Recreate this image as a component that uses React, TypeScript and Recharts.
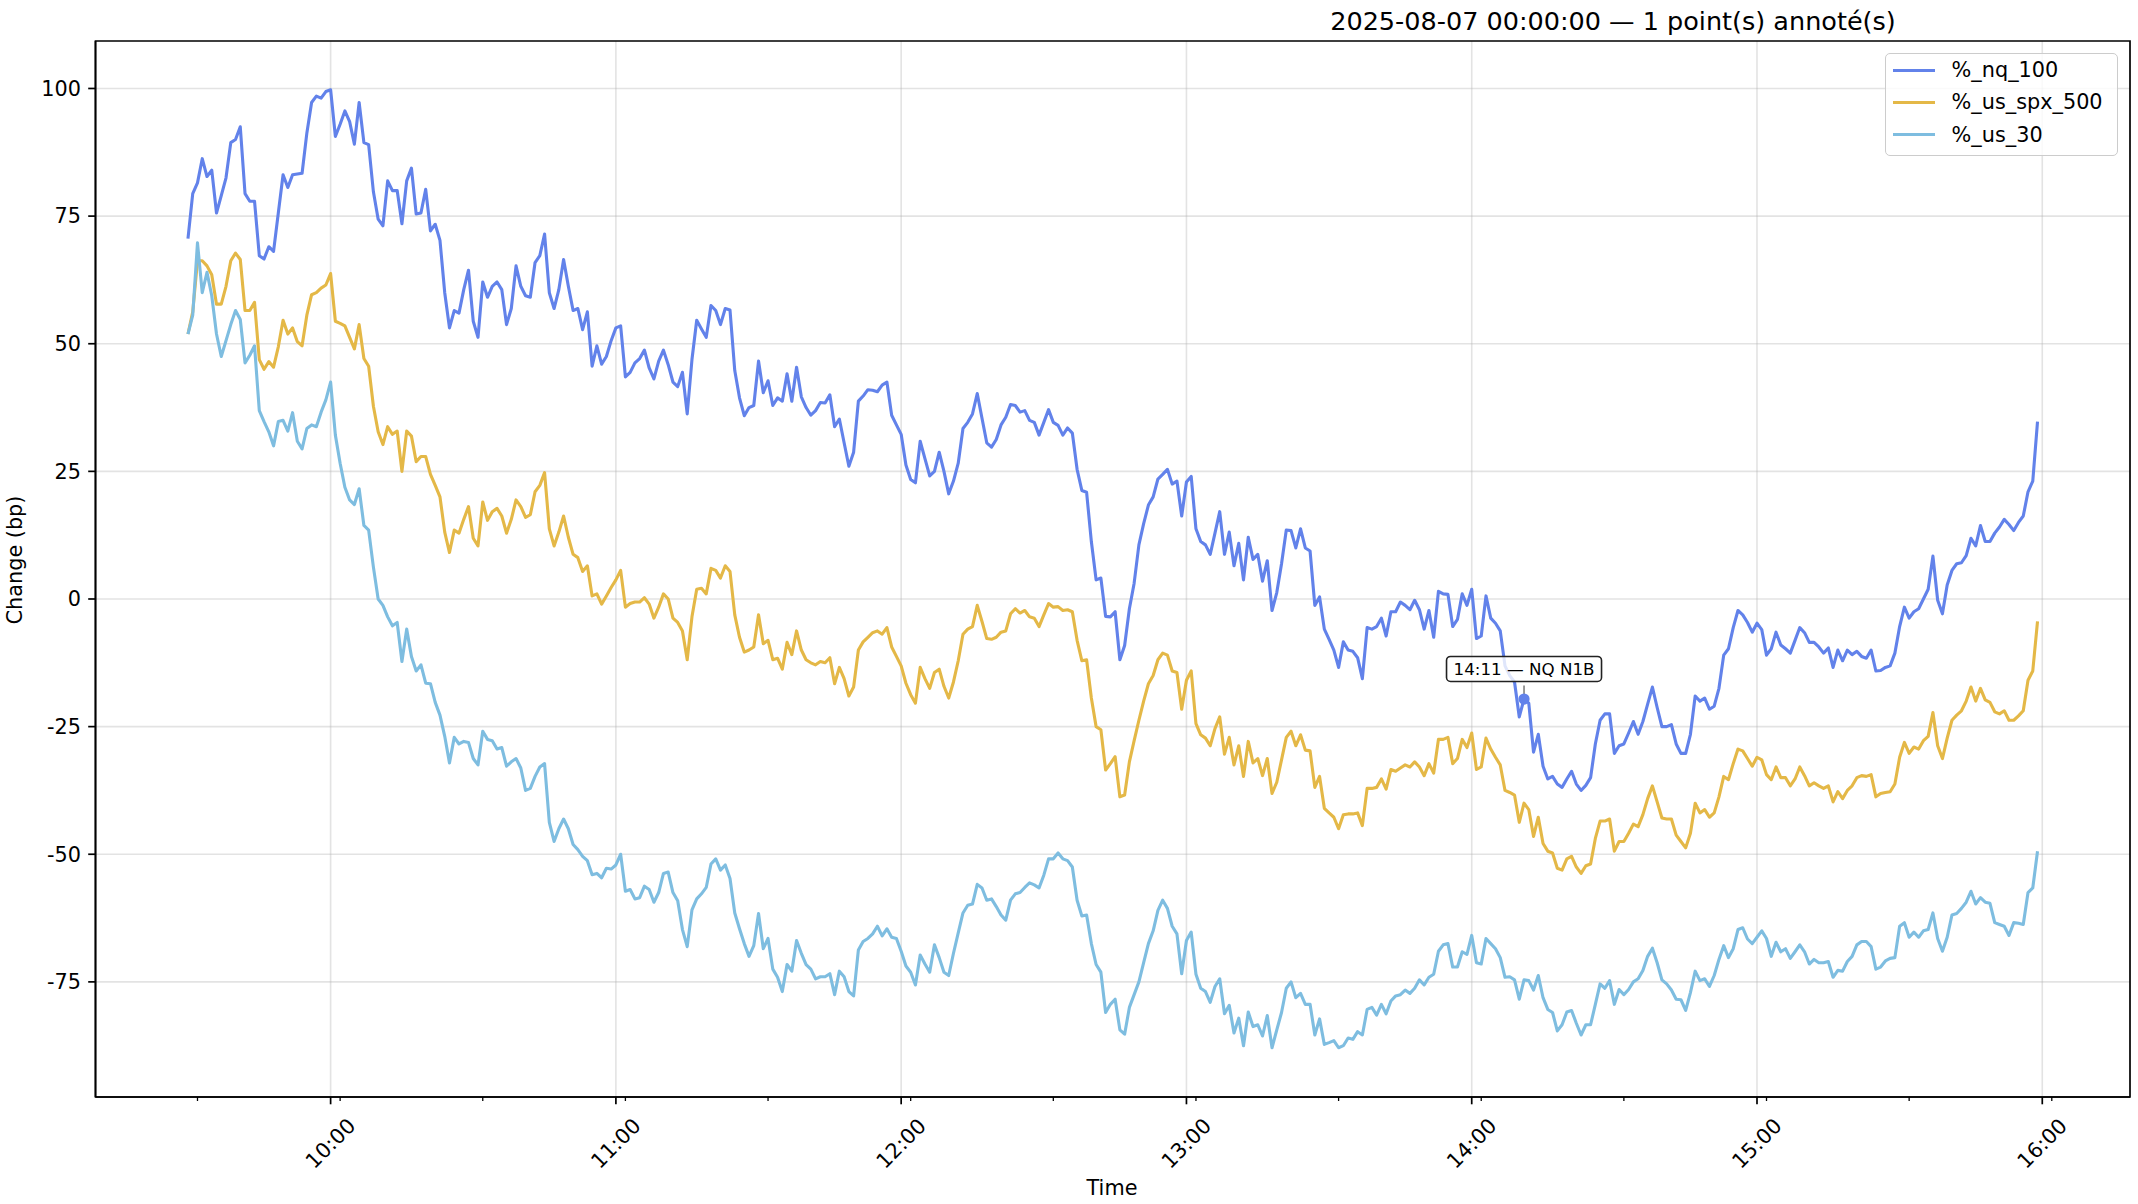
import { LineChart, Line, XAxis, YAxis, CartesianGrid, ReferenceDot, ReferenceArea, Legend } from 'recharts';

const FONT = "'DejaVu Sans', 'Liberation Sans', sans-serif";

// session start, minutes after midnight (one reading per minute from here)
const START_MINUTE = 9 * 60 + 30;

const nq = [
  70.6, 79.4, 81.5, 86.25, 82.75, 84, 75.6, 79, 82.5, 89.4, 90, 92.5, 79.4, 77.9, 77.9, 67.25, 66.6, 69, 68.1, 75.6,
  83.1, 80.6, 83.1, 83.25, 83.4, 91.25, 97.25, 98.5, 98.1, 99.4, 99.75, 90.6, 93, 95.6, 93.5, 89.1, 97.25, 89.4, 89, 79.75,
  74.4, 73.1, 81.9, 80, 80, 73.5, 81.9, 84.4, 75.4, 75.6, 80.25, 72.1, 73.4, 70.25, 60, 53.1, 56.5, 56, 60.6, 64.4,
  54.4, 51.25, 62.1, 59.1, 61.25, 62.1,
  60.6, 53.75, 56.9, 65.25, 61.25, 59.4, 59.1, 65.9, 67.25, 71.5, 60, 56.9, 60.6, 66.5, 61.25, 56.5, 56.9, 52.75, 56.25, 45.6,
  49.6, 46, 47.5, 50.6, 53.1, 53.5, 43.5, 44.4, 46.25, 47.1, 48.75, 45.25, 43.1, 46.6, 48.75, 45.9, 42.5, 41.6, 44.4, 36.25,
  46.9, 54.6, 52.9, 51.25, 57.5, 56.5, 53.75, 56.9, 56.6, 44.75, 39.4, 35.9, 37.5, 37.9, 46.6, 40.4, 42.75, 37.9, 39.4, 38.75,
  44.1, 38.75, 45.4, 39.6, 37.5,
  36, 36.9, 38.5, 38.4, 40, 33.75, 35.25, 30.6, 26, 28.75, 38.75, 39.75, 41, 40.9, 40.6, 41.9, 42.5, 36, 34.1, 32.25,
  26.25, 23.4, 22.75, 30.9, 27.5, 24.1, 25, 28.75, 25, 20.6, 23.1, 26.6, 33.4, 34.6, 36.25, 40.25, 35.4, 30.6, 29.75, 31.25,
  34.1, 35.6, 38.1, 37.9, 36.6, 36.9, 35, 34.6, 32.1, 34.6, 37.1, 34.6, 34, 32.1, 33.5, 32.5, 25.4, 21.25, 20.9, 11.25,
  3.75, 4.1, -3.4, -3.5, -2.5, -11.9,
  -9.1, -1.9, 3.1, 10.6, 14.75, 18.4, 20, 23.5, 24.4, 25.4, 22.5, 23.1, 16.25, 22.9, 24, 13.75, 11.25, 10.6, 8.75, 12.9,
  17.1, 8.75, 13.1, 6.5, 10.9, 3.75, 12.1, 7.75, 8.75, 3.5, 7.5, -2.25, 1.25, 6.9, 13.5, 13.4, 10, 13.75, 10, 9.4,
  -1.25, 0.4, -5.9, -7.9, -10, -13.4, -8.4, -10, -10.25, -11.5, -15.6, -5.6, -5.9, -5.4, -3.75, -7.25, -2.5, -2.5, -0.6, -1.25,
  -2.1, -0.25, -2.1, -5.9, -2.25,
  -7.5, 1.5, 1, 0.9, -5.4, -4, 1, -1.25, 1.9, -7.75, -7.25, 0.6, -3.75, -4.75, -6.25, -13.1, -15, -16.25, -23.1, -19.6,
  -20.4, -30, -26.5, -32.75, -35.25, -34.75, -36.25, -36.9, -35.25, -33.75, -36.25, -37.5, -36.5, -35, -28.4, -23.75, -22.5, -22.5, -30.25, -28.75,
  -28.4, -26.25, -24, -26.5, -24, -20.6, -17.25, -21.25, -25, -25, -24.6, -28.4, -30.25, -30.25, -26.5, -19, -20, -19.4, -21.6, -21,
  -17.5, -11, -9.75, -5.6, -2.25,
  -3.1, -4.6, -6.5, -4.75, -6, -11, -9.75, -6.5, -9, -9.75, -10.6, -8.1, -5.6, -6.6, -8.5, -8.5, -9.4, -10.6, -9.6, -13.4,
  -10, -12.1, -10, -10.9, -10.25, -11.25, -11.6, -10, -14.1, -14, -13.4, -13.1, -10.6, -5.4, -1.6, -3.75, -2.5, -1.9, 0, 1.9,
  8.4, -0.25, -2.9, 2.75, 5.6, 6.9, 7.1, 8.5, 11.9, 10.4, 14.4, 11.25, 11.25, 12.9, 14.1, 15.6, 14.6, 13.4, 15, 16.25,
  21, 23.1, 34.75,
];

const spx = [
  51.9, 56.25, 66.25, 66.25, 65.25, 63.5, 57.75, 57.75, 61.25, 66.25, 67.75, 66.5, 56.5, 56.5, 58.1, 46.9, 45, 46.5, 45.4, 49.4,
  54.6, 51.9, 53.1, 50.4, 49.6, 55.6, 59.6, 60, 60.9, 61.5, 63.75, 54.4, 54, 53.5, 51.25, 49, 53.75, 47.1, 45.6, 37.75,
  32.75, 30.25, 33.75, 32.25, 32.9, 25, 32.9, 31.9, 26.9, 27.9, 27.9, 24.4, 22.25, 20, 13.1, 9.1, 13.5, 12.9, 15.6, 18.1,
  11.9, 10.4, 19, 15.4, 17.1, 17.75,
  16.25, 12.9, 15.6, 19.4, 18.1, 16, 16.5, 21, 22.25, 24.75, 13.75, 10.4, 13.1, 16.25, 12.1, 8.75, 8.1, 5.4, 6.5, 0.6,
  1, -1, 0.6, 2.25, 3.75, 5.6, -1.6, -0.9, -0.6, -0.6, 0.25, -1, -3.75, -1.6, 1, 0, -3.75, -4.6, -6.25, -11.9,
  -3.5, 1.9, 2.1, 1, 6, 5.6, 4.1, 6.5, 5.4, -3.1, -7.5, -10.4, -10, -9.4, -3.1, -8.75, -8.1, -11.9, -11.6, -13.75,
  -8.5, -10.9, -6.25, -10, -11.9,
  -12.5, -12.9, -12.25, -12.5, -11.5, -16.6, -13.4, -15.6, -19, -17.25, -10, -8.4, -7.5, -6.6, -6.25, -6.9, -5.6, -9.4, -11.25, -13.1,
  -16.5, -18.75, -20.4, -13.4, -15.6, -17.5, -14.4, -13.75, -17.1, -19.4, -16.25, -12.1, -6.9, -5.9, -5.4, -1.25, -4.4, -7.75, -7.9, -7.5,
  -6.5, -6.25, -2.9, -1.9, -2.75, -2.25, -3.5, -3.75, -5.4, -3.1, -0.9, -1.6, -1.5, -2.25, -2.1, -2.5, -8.1, -12.1, -11.9, -19.4,
  -25, -25.6, -33.5, -32.25, -30.9, -38.75,
  -38.4, -31.9, -27.75, -23.75, -20, -16.6, -15, -11.9, -10.6, -11, -14.1, -14.4, -21.6, -15.9, -14.1, -24.4, -26.6, -27.25, -28.75, -25.4,
  -23.1, -30.4, -27.1, -32.5, -28.75, -34.75, -27.9, -32.1, -31.25, -34.6, -31.25, -38.1, -35.9, -31.5, -27.1, -25.9, -28.75, -26.6, -29.6, -29.75,
  -36.9, -34.75, -41, -41.9, -42.75, -45, -42.25, -42.1, -42.1, -41.9, -44.4, -37.1, -37.1, -36.9, -35.25, -37.25, -33.4, -33.75, -33.1, -32.5,
  -32.9, -31.9, -32.9, -34.6, -32.25,
  -34.1, -27.5, -27.5, -27.1, -32.25, -31.25, -27.5, -29.1, -26.25, -33.4, -32.9, -27.25, -29.4, -31, -32.5, -37.5, -37.9, -38.4, -43.75, -40,
  -41.25, -46.5, -42.75, -47.9, -49.4, -49.75, -52.75, -53.1, -50.9, -50.4, -52.5, -53.75, -52.25, -51.9, -46.9, -43.5, -43.5, -43.1, -49.4, -47.5,
  -47.5, -45.9, -44.1, -44.6, -42.25, -39.1, -36.6, -39.75, -42.9, -43.1, -43.1, -46.25, -47.5, -48.75, -45.9, -40, -41.9, -41.25, -42.75, -41.9,
  -38.75, -34.75, -35.4, -32.25, -29.4,
  -29.75, -31.25, -32.75, -31, -31.5, -34.4, -35.4, -32.9, -35, -35, -36.6, -35.25, -32.9, -34.6, -36.6, -36, -36.6, -37.1, -36.6, -39.75,
  -37.75, -39.1, -37.5, -36.6, -35, -34.6, -34.75, -34.4, -38.75, -38.1, -37.9, -37.75, -36.25, -31, -28.1, -30.25, -29, -29.4, -27.75, -26.9,
  -22.25, -28.75, -31.25, -27.25, -23.75, -22.75, -21.9, -20, -17.25, -20, -17.5, -19.75, -20.25, -22.1, -22.5, -21.9, -23.75, -23.75, -22.9, -21.9,
  -15.9, -14.1, -4.4,
];

const us30 = [
  51.9, 55.6, 69.75, 60, 64, 59.4, 51.9, 47.5, 50.6, 53.75, 56.5, 54.75, 46.25, 47.75, 49.6, 36.9, 34.75, 32.75, 30, 34.75,
  35, 32.9, 36.5, 30.9, 29.4, 33.4, 34.1, 33.75, 36.6, 39, 42.5, 32.1, 26.6, 21.9, 19.4, 18.5, 21.6, 14.4, 13.5, 6.25,
  0, -1.25, -3.5, -5.25, -4.6, -12.25, -5.9, -11.25, -14.1, -12.9, -16.5, -16.6, -20.25, -22.75, -26.9, -32.1, -27.1, -28.4, -27.9, -28.1,
  -31.25, -32.5, -25.9, -27.5, -27.75, -29.4,
  -29.1, -32.75, -31.9, -31.25, -33.1, -37.5, -37.1, -34.75, -32.9, -32.25, -43.75, -47.5, -45, -43.1, -45, -48.1, -49.1, -50.4, -51.25, -54,
  -53.75, -54.6, -52.75, -52.9, -52.1, -50, -57.25, -56.9, -58.75, -58.5, -56.25, -56.9, -59.4, -57.5, -53.75, -53.5, -57.5, -59.1, -64.75, -68.1,
  -60.9, -58.75, -57.75, -56.5, -51.9, -50.9, -53.1, -52.1, -54.75, -61.5, -64.6, -67.5, -70, -67.9, -61.6, -68.5, -66.5, -72.5, -74.1, -76.9,
  -71.6, -72.9, -66.9, -69.4, -71.6,
  -72.5, -74.4, -74, -74, -73.4, -77.5, -72.9, -74, -76.9, -77.75, -68.75, -67.1, -66.5, -65.6, -64.1, -66, -64.6, -66.25, -66.5, -69,
  -71.9, -73.1, -75.6, -69.75, -71.5, -73.1, -67.75, -70.25, -73.1, -73.75, -69.4, -65.4, -61.5, -60, -59.75, -55.9, -56.6, -59, -58.75, -60.25,
  -61.9, -62.9, -59, -57.75, -57.5, -56.5, -55.6, -56, -56.6, -54.1, -50.9, -50.9, -49.75, -50.9, -51.25, -52.5, -59, -62.1, -61.9, -67.5,
  -71.6, -73.1, -81, -79.4, -78.4, -84.4,
  -85.25, -80, -77.5, -75, -71.25, -67.5, -65, -61, -59, -60.6, -64.1, -65.6, -73.4, -66.9, -65.25, -73.5, -76.25, -76.9, -79, -75.9,
  -74.4, -81.25, -79.6, -85, -82.1, -87.5, -80.9, -83.75, -83.4, -85.6, -81.6, -87.9, -84.4, -81, -76.25, -75, -78.1, -77.25, -79.4, -79.4,
  -85.4, -82.25, -87.25, -86.9, -86.5, -87.9, -87.5, -86, -86.25, -84.75, -85.4, -80.4, -80, -81.5, -79.4, -81.25, -78.75, -77.75, -77.5, -76.6,
  -77.25, -76.25, -74.6, -75.6, -74.1,
  -73.5, -69, -67.75, -67.5, -72.1, -72.1, -69.1, -69.6, -65.9, -71.25, -71.5, -66.5, -67.5, -68.5, -70.25, -74.1, -74, -74.6, -78.4, -74.6,
  -74.75, -76.6, -73.75, -78.1, -80.4, -81, -84.6, -83.4, -80.9, -80.6, -83.1, -85.4, -83.4, -83.4, -79.4, -75.4, -76.25, -74.75, -79.4, -76.5,
  -77.5, -76.5, -75, -74.4, -72.75, -70, -68.4, -71.25, -74.6, -75.4, -76.6, -78.4, -78.5, -80.6, -77.1, -72.9, -74.75, -74.4, -75.9, -73.75,
  -70.6, -67.9, -70.25, -68.5, -64.75,
  -64.4, -66.6, -67.5, -66.25, -65, -66.5, -70, -67.25, -69.1, -68.5, -70.4, -69.1, -67.75, -69.1, -71.5, -70.6, -71.25, -71.25, -71, -74.1,
  -72.75, -72.9, -71, -70, -67.75, -67.1, -67.1, -68.1, -72.5, -72.1, -70.9, -70.4, -70.25, -64.1, -63.4, -66.25, -65.25, -66.25, -65, -64.75,
  -61.5, -66.5, -69, -66.25, -61.9, -61.6, -60.6, -59.4, -57.25, -59.75, -58.5, -59.4, -59.6, -63.4, -63.75, -64.1, -65.9, -63.4, -63.5, -63.75,
  -57.5, -56.6, -49.4,
];

const seriesKeys = ['nq', 'spx', 'us30'];
const seriesNames = ['%_nq_100', '%_us_spx_500', '%_us_30'];
const seriesColors = ['#6282ea', '#e4b847', '#7ebde0'];

const yTicks = [-75, -50, -25, 0, 25, 50, 75, 100];
const hourTicks = [600, 660, 720, 780, 840, 900, 960];
const minorTicks = [572, 602, 632, 662, 692, 722, 752, 782, 812, 842, 872, 902, 932, 962];

const annotationTime = '14:11';
const annotationText = '14:11 — NQ N1B';
const titleText = '2025-08-07 00:00:00 — 1 point(s) annoté(s)';

const X_DOMAIN = [550.55, 978.45];
const Y_DOMAIN = [-97.55, 109.3];

const data = nq.map((v, i) => ({ t: START_MINUTE + i, nq: v, spx: spx[i], us30: us30[i] }));
const allTicks = [...hourTicks, ...minorTicks].sort((a, b) => a - b);

const [annH, annM] = annotationTime.split(':').map(Number);
const annMinute = annH * 60 + annM;
const annValue = nq[annMinute - START_MINUTE];

function fmtTime(v: number) {
  const h = Math.floor(v / 60);
  const m = v % 60;
  return `${String(h).padStart(2, '0')}:${String(m).padStart(2, '0')}`;
}

function TimeTick(props: any) {
  const { x, y, payload } = props;
  const major = payload.value % 60 === 0;
  if (!major) {
    return <line x1={x} x2={x} y1={y} y2={y + 4} stroke="#000" strokeWidth={1.3} />;
  }
  const cy = y + 46.5;
  return (
    <g>
      <line x1={x} x2={x} y1={y} y2={y + 7.3} stroke="#000" strokeWidth={1.7} />
      <text
        x={x}
        y={cy}
        transform={`rotate(-45, ${x}, ${cy})`}
        textAnchor="middle"
        dominantBaseline="central"
        fontSize={20.8}
        fontFamily={FONT}
        fill="#000"
      >
        {fmtTime(payload.value)}
      </text>
    </g>
  );
}

function AnnotationMark(props: any) {
  const { cx, cy } = props;
  if (cx == null || cy == null) return null;
  const w = 155;
  const h = 25;
  const by = cy - 30.1;
  return (
    <g>
      <line x1={cx} x2={cx} y1={by + h / 2 + 4} y2={cy - 4.5} stroke="#555" strokeWidth={1.2} />
      <circle cx={cx} cy={cy} r={5.6} fill={seriesColors[0]} />
      <rect x={cx - w / 2} y={by - h / 2} width={w} height={h} rx={4} ry={4} fill="#fff" fillOpacity={0.8} stroke="#222" strokeWidth={1.6} />
      <text x={cx} y={by} textAnchor="middle" dominantBaseline="central" fontSize={16.7} fontFamily={FONT} fill="#000">
        {annotationText}
      </text>
    </g>
  );
}

function LegendBox(props: any) {
  const items = [...(props.payload || [])].sort(
    (a: any, b: any) => seriesNames.indexOf(a.value) - seriesNames.indexOf(b.value)
  );
  return (
    <div
      style={{
        boxSizing: 'border-box',
        width: 233,
        height: 103,
        border: '1.6px solid #cccccc',
        borderRadius: 5,
        background: 'rgba(255,255,255,0.8)',
        padding: '0 0 0 7px',
        fontFamily: FONT,
        fontSize: 20.8,
        color: '#000',
      }}
    >
      {items.map((it: any) => (
        <div key={it.value} style={{ display: 'flex', alignItems: 'center', height: 32.3 }}>
          <span style={{ display: 'inline-block', width: 42, height: 3.1, background: it.color, marginRight: 16.6 }} />
          <span style={{ lineHeight: '24px' }}>{it.value}</span>
        </div>
      ))}
    </div>
  );
}

export default function App() {
  return (
    <div style={{ position: 'absolute', left: 0, top: 0, width: 2138, height: 1204, background: '#fff' }}>
      <LineChart width={2138} height={1204} data={data} margin={{ top: 41, right: 8, bottom: 0, left: 0 }}>
        <CartesianGrid
          stroke="#b0b0b0"
          strokeOpacity={0.35}
          strokeWidth={1.6}
          horizontalValues={yTicks}
          verticalValues={hourTicks}
        />
        <XAxis
          dataKey="t"
          type="number"
          domain={X_DOMAIN}
          allowDataOverflow
          ticks={allTicks}
          interval={0}
          tickSize={0}
          tickMargin={0}
          tickLine={false}
          tick={<TimeTick />}
          height={107}
          axisLine={{ stroke: '#000', strokeWidth: 1.7 }}
        />
        <YAxis
          type="number"
          domain={Y_DOMAIN}
          allowDataOverflow
          ticks={yTicks}
          interval={0}
          width={95.5}
          tickSize={7.3}
          tickMargin={7.3}
          tick={{ fontSize: 20.8, fontFamily: FONT, fill: '#000' }}
          tickLine={{ stroke: '#000', strokeWidth: 1.7 }}
          axisLine={{ stroke: '#000', strokeWidth: 1.7 }}
        />
        {seriesKeys.map((k, i) => (
          <Line
            key={k}
            dataKey={k}
            name={seriesNames[i]}
            type="linear"
            stroke={seriesColors[i]}
            strokeWidth={3.1}
            strokeLinejoin="round"
            dot={false}
            activeDot={false}
            isAnimationActive={false}
          />
        ))}
        <ReferenceArea
          x1={X_DOMAIN[0]}
          x2={X_DOMAIN[1]}
          y1={Y_DOMAIN[0]}
          y2={Y_DOMAIN[1]}
          fill="none"
          fillOpacity={0}
          stroke="#000"
          strokeWidth={1.7}
          ifOverflow="visible"
        />
        <ReferenceDot x={annMinute} y={annValue} r={5.6} ifOverflow="visible" shape={(p: any) => <AnnotationMark {...p} />} />
        <Legend
          layout="vertical"
          align="center"
          verticalAlign="middle"
          wrapperStyle={{ top: 53, left: 1885, width: 233, height: 103 }}
          content={(p: any) => <LegendBox {...p} />}
        />
      </LineChart>
      <div
        style={{
          position: 'absolute',
          left: 1213,
          width: 800,
          top: 7,
          textAlign: 'center',
          fontFamily: FONT,
          fontSize: 25.5,
          lineHeight: '29px',
          color: '#000',
          whiteSpace: 'nowrap',
        }}
      >
        {titleText}
      </div>
      <div
        style={{
          position: 'absolute',
          left: 912,
          width: 400,
          top: 1176,
          textAlign: 'center',
          fontFamily: FONT,
          fontSize: 20.8,
          lineHeight: '24px',
          color: '#000',
        }}
      >
        Time
      </div>
      <div
        style={{
          position: 'absolute',
          left: 15 - 100,
          top: 560 - 12,
          width: 200,
          height: 24,
          transform: 'rotate(-90deg)',
          textAlign: 'center',
          fontFamily: FONT,
          fontSize: 20.8,
          lineHeight: '24px',
          color: '#000',
          whiteSpace: 'nowrap',
        }}
      >
        Change (bp)
      </div>
    </div>
  );
}
